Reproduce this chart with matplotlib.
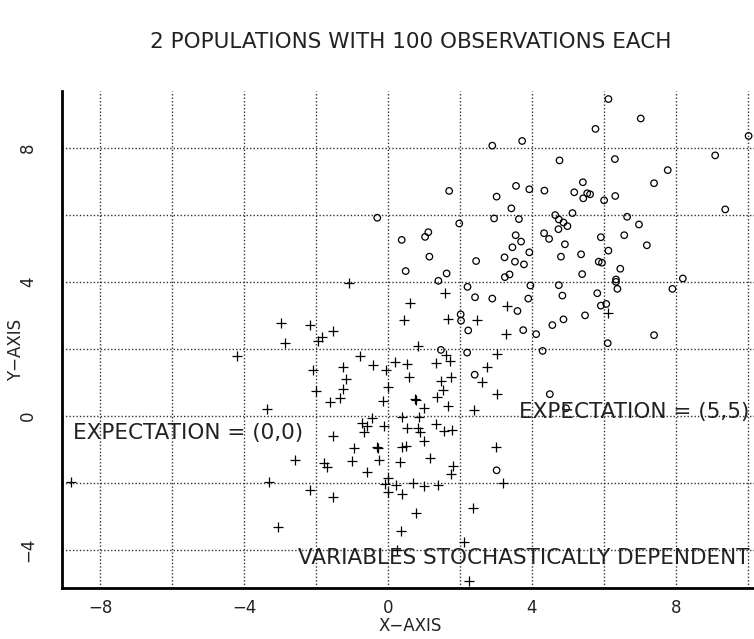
import numpy as np
import matplotlib
matplotlib.use('Agg')
import matplotlib.pyplot as plt

# population 1: expectation (0,0)  -> '+'
plus_x = [-2.98, -2.87, -4.21, -3.37, -2.59, -8.83, -3.32, -3.07, -1.08, -2.16,
          -1.52, -1.84, -1.94, -0.77, -0.41, -0.07, -1.26, -2.08, -1.17, 0.01,
          -1.25, -2.00, -1.35, -1.61, -0.13, -0.44, 0.84, 1.61, 3.02, 0.19,
          0.54, 1.33, 1.72, 2.75, 0.59, 1.48, 1.76, 2.61, 1.52, 3.02,
          0.75, 1.35, 0.78, 1.00, 1.66, 2.38, 0.38, 0.87, -0.73, -0.59,
          -0.68, -0.10, 0.53, 0.84, 0.90, 1.33, 1.55, 1.77, -1.52, 1.00,
          -0.95, -0.31, -0.27, 0.38, 0.51, 3.00, -1.78, -1.70, -1.00, -0.25,
          0.34, 1.16, 1.81, 1.75, -0.58, -0.01, -0.08, 0.21, 0.70, 1.01,
          1.38, 3.19, -2.16, -1.54, 0.00, 0.40, 2.35, 0.78, 0.36, 2.12,
          0.24, 2.25, 0.45, 0.60, 1.59, 1.67, 2.47, 3.31, 3.29, 6.11]
plus_y = [2.76, 2.18, 1.80, 0.21, -1.31, -1.96, -1.96, -3.30, 3.97, 2.72,
          2.52, 2.35, 2.24, 1.80, 1.52, 1.37, 1.45, 1.37, 1.10, 0.85,
          0.80, 0.75, 0.54, 0.43, 0.44, -0.06, 2.08, 1.82, 1.85, 1.62,
          1.55, 1.58, 1.64, 1.47, 1.16, 1.04, 1.16, 1.02, 0.77, 0.65,
          0.52, 0.56, 0.48, 0.24, 0.31, 0.18, -0.02, -0.02, -0.22, -0.30,
          -0.48, -0.30, -0.35, -0.35, -0.49, -0.25, -0.45, -0.41, -0.61, -0.75,
          -0.97, -0.93, -0.96, -0.94, -0.90, -0.92, -1.40, -1.51, -1.33, -1.32,
          -1.36, -1.26, -1.50, -1.74, -1.68, -1.86, -2.02, -2.06, -2.00, -2.08,
          -2.06, -1.99, -2.21, -2.41, -2.28, -2.32, -2.75, -2.89, -3.42, -3.76,
          -3.99, -4.92, 2.85, 3.38, 3.68, 2.90, 2.85, 3.27, 2.45, 3.08]

# population 2: expectation (5,5)  -> 'o'
circ_x = [-0.30, 0.38, 1.03, 1.12, 1.70, 1.98, 1.15, 0.49, 1.40, 1.63,
          2.45, 2.21, 2.42, 2.90, 2.90, 3.73, 3.02, 3.56, 3.93, 3.43,
          2.95, 3.64, 3.55, 3.70, 3.46, 3.93, 3.24, 3.53, 3.78, 3.25,
          3.38, 3.96, 3.90, 3.60, 3.76, 2.02, 2.03, 2.23, 4.12, 1.47,
          2.20, 4.30, 2.41, 4.50, 3.02, 6.13, 7.03, 5.77, 10.03, 9.10,
          4.77, 6.31, 7.78, 5.42, 7.40, 4.35, 5.18, 5.54, 5.62, 5.43,
          6.32, 6.01, 9.38, 4.65, 5.13, 4.75, 4.88, 4.99, 4.74, 6.65,
          6.98, 4.34, 4.48, 4.92, 5.92, 6.57, 7.20, 4.81, 5.37, 6.13,
          5.86, 5.95, 6.46, 5.40, 6.34, 6.34, 6.38, 8.20, 7.91, 4.75,
          4.85, 5.82, 5.92, 6.07, 5.48, 4.88, 4.57, 7.40, 6.11, 4.95]
circ_y = [5.91, 5.25, 5.34, 5.48, 6.71, 5.74, 4.75, 4.32, 4.03, 4.25,
          4.62, 3.85, 3.54, 3.50, 8.06, 8.20, 6.54, 6.86, 6.76, 6.19,
          5.89, 5.87, 5.39, 5.20, 5.03, 4.88, 4.73, 4.60, 4.52, 4.14,
          4.22, 3.89, 3.50, 3.13, 2.56, 3.03, 2.84, 2.55, 2.44, 1.97,
          1.89, 1.94, 1.23, 0.65, -1.62, 9.45, 8.87, 8.56, 8.35, 7.77,
          7.62, 7.66, 7.33, 6.97, 6.94, 6.72, 6.67, 6.64, 6.61, 6.49,
          6.56, 6.43, 6.16, 5.99, 6.05, 5.86, 5.77, 5.66, 5.57, 5.94,
          5.71, 5.45, 5.28, 5.12, 5.33, 5.39, 5.09, 4.75, 4.82, 4.93,
          4.60, 4.57, 4.39, 4.23, 4.07, 4.00, 3.79, 4.10, 3.79, 3.90,
          3.59, 3.66, 3.29, 3.34, 3.00, 2.88, 2.71, 2.41, 2.17, 0.23]

x_major = [-8, -4, 0, 4, 8]
x_minor = [-6, -2, 2, 6, 10]
y_major = [-4, 0, 4, 8]
y_minor = [-2, 2, 6]

plt.rcParams['font.family'] = ['DejaVu Sans']
txt = '#222222'

fig = plt.figure(figsize=(7.54, 6.39), dpi=100)
ax = fig.add_axes([62 / 754, 51 / 639, 692 / 754, 497 / 639])

ax.scatter(plus_x, plus_y, marker='+', s=60, c='black', linewidths=0.9, zorder=3)
ax.scatter(circ_x, circ_y, marker='o', s=22, facecolors='none', edgecolors='black',
           linewidths=0.9, zorder=3)

ax.set_xlim(-9.07, 10.18)
ax.set_ylim(-5.13, 9.69)
ax.set_xticks(x_major)
ax.set_xticks(x_minor, minor=True)
ax.set_yticks(y_major)
ax.set_yticks(y_minor, minor=True)
ax.set_xticklabels(['\u22128', '\u22124', '0', '4', '8'], fontsize=12, color=txt)
ax.set_yticklabels(['\u22124', '0', '4', '8'], fontsize=12, color=txt,
                   rotation=90, va='center')
ax.tick_params(which='both', length=0)
ax.tick_params(axis='x', pad=8)
ax.tick_params(axis='y', pad=18)
ax.grid(which='both', linestyle=(0, (1, 1.5)), color='#333333', linewidth=1)
ax.set_axisbelow(True)

for side in ['top', 'right']:
    ax.spines[side].set_visible(False)
for side in ['left', 'bottom']:
    ax.spines[side].set_linewidth(2)

# axis titles placed directly so they stay inside the figure
fig.text(410 / 754, 1 - 626 / 639, 'X\u2212AXIS', fontsize=12, color=txt,
         ha='center', va='center')
fig.text(16 / 754, 1 - 350 / 639, 'Y\u2212AXIS', fontsize=12, color=txt,
         ha='center', va='center', rotation=90)

ax.text(-8.76, -0.5, 'EXPECTATION = (0,0)', fontsize=15.5, color=txt, va='center')
ax.text(10.05, 0.12, 'EXPECTATION = (5,5)', fontsize=15.5, color=txt, va='center',
        ha='right')
ax.text(10.05, -4.23, 'VARIABLES STOCHASTICALLY DEPENDENT', fontsize=15.5, color=txt,
        va='center', ha='right')

fig.text(0.545, 1 - 42 / 639, '2 POPULATIONS WITH 100 OBSERVATIONS EACH',
         fontsize=15.5, color=txt, ha='center', va='center')

fig.savefig('out.png', dpi=100)
